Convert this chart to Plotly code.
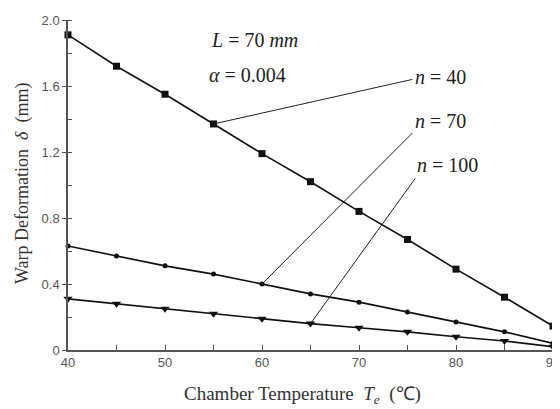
import plotly.graph_objects as go

temps = [40, 45, 50, 55, 60, 65, 70, 75, 80, 85, 90]
n40 = [1.91, 1.72, 1.55, 1.37, 1.19, 1.02, 0.84, 0.67, 0.49, 0.32, 0.145]
n70 = [0.63, 0.57, 0.51, 0.46, 0.40, 0.34, 0.29, 0.23, 0.17, 0.11, 0.04]
n100 = [0.31, 0.28, 0.25, 0.22, 0.19, 0.16, 0.135, 0.11, 0.08, 0.055, 0.02]

y_tickvals = [0, 0.4, 0.8, 1.2, 1.6, 2.0]
y_ticktext = ["0", "0.4", "0.8", "1.2", "1.6", "2.0"]
x_tickvals = [40, 50, 60, 70, 80, 90]

fig = go.Figure()
line = dict(color="#111111", width=1.6)
fig.add_trace(go.Scatter(x=temps, y=n40, mode="lines+markers", line=line,
                         marker=dict(symbol="square", size=7, color="#111111"), cliponaxis=False))
fig.add_trace(go.Scatter(x=temps, y=n70, mode="lines+markers", line=line,
                         marker=dict(symbol="circle", size=5, color="#111111"), cliponaxis=False))
fig.add_trace(go.Scatter(x=temps, y=n100, mode="lines+markers", line=line,
                         marker=dict(symbol="triangle-down", size=8, color="#111111"), cliponaxis=False))

# leader lines
leaders = [(55, n40[3], 75.5, 1.64), (60, n70[4], 75.5, 1.315), (65, n100[5], 75.8, 1.04)]
for x0, y0, x1, y1 in leaders:
    fig.add_shape(type="line", x0=x0, y0=y0, x1=x1, y1=y1, xref="x", yref="y",
                  line=dict(color="#222222", width=1))

serif = "Liberation Serif, Times New Roman, serif"
afont = dict(family=serif, size=20, color="#222222")
labels = [(75.6, 1.655, "<i>n</i> = 40"), (75.6, 1.39, "<i>n</i> = 70"), (75.8, 1.12, "<i>n</i> = 100")]
for x, y, t in labels:
    fig.add_annotation(x=x, y=y, text=t, showarrow=False, xanchor="left", yanchor="middle", font=afont)
fig.add_annotation(x=54.5, y=1.88, text="<i>L</i> = 70 <i>mm</i>", showarrow=False,
                   xanchor="left", yanchor="middle", font=afont)
fig.add_annotation(x=54.3, y=1.667, text="<i>α</i> = 0.004", showarrow=False,
                   xanchor="left", yanchor="middle", font=afont)

# axis titles
fig.add_annotation(xref="paper", yref="paper", x=0.4825, y=-0.136, showarrow=False,
                   xanchor="center", yanchor="middle",
                   text="Chamber Temperature  <i>T</i><sub><i>e</i></sub>  (℃)",
                   font=dict(family=serif, size=19, color="#333333"))
fig.add_annotation(xref="paper", yref="paper", x=-0.095, y=0.506, showarrow=False,
                   xanchor="center", yanchor="middle", textangle=-90,
                   text="Warp Deformation  <i>δ</i>  (mm)",
                   font=dict(family=serif, size=18, color="#333333"))

tickfont = dict(family="Liberation Sans, Arial, sans-serif", size=13, color="#555555")
# page body has an 8px default margin, so the figure is offset by 8px
fig.update_layout(
    width=552, height=401,
    margin=dict(l=60, r=7, t=12, b=59),
    paper_bgcolor="white", plot_bgcolor="white",
    showlegend=False,
    xaxis=dict(range=[40, 90], tickvals=x_tickvals, showgrid=False, zeroline=False, automargin=False,
               showline=True, linecolor="#555555", linewidth=1.5,
               ticks="inside", ticklen=5, tickcolor="#555555", ticklabeloverflow="allow",
               minor=dict(ticks="inside", ticklen=5, dtick=5, tick0=40, tickcolor="#555555"),
               tickfont=tickfont),
    yaxis=dict(range=[0, 2.0], tickvals=y_tickvals, ticktext=y_ticktext, showgrid=False, zeroline=False,
               automargin=False,
               showline=True, linecolor="#555555", linewidth=1.5,
               ticks="outside", ticklen=4, tickcolor="#555555",
               minor=dict(ticks="inside", ticklen=4, dtick=0.2, tick0=0, tickcolor="#555555"),
               tickfont=tickfont),
)

fig.write_html("out.html")
